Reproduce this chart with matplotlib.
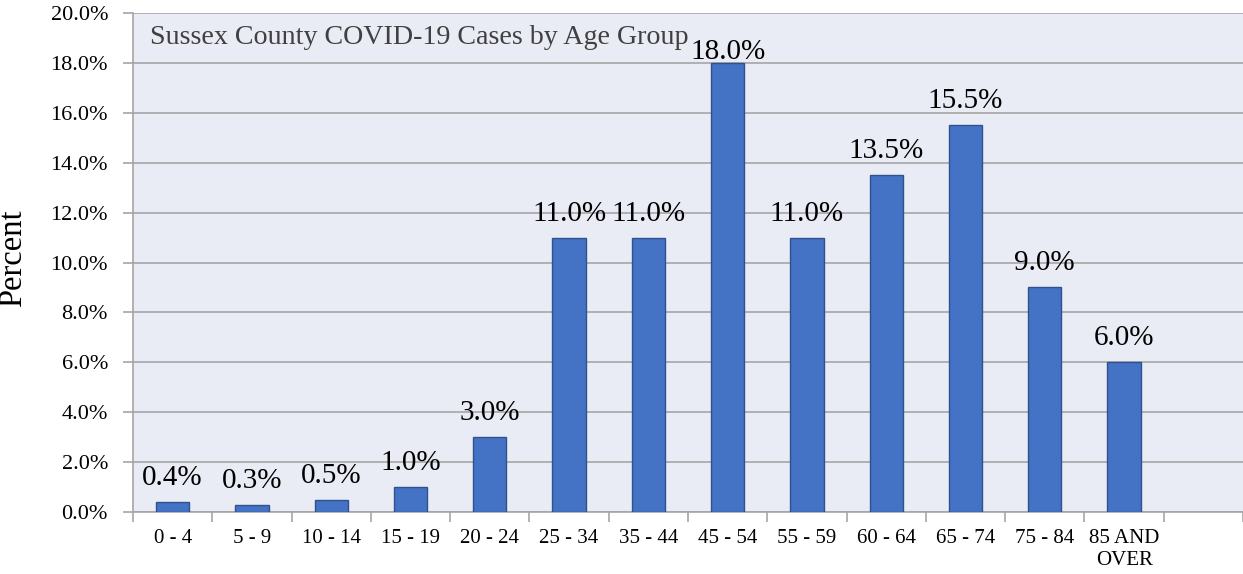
import matplotlib
matplotlib.use("Agg")
import matplotlib.pyplot as plt
import numpy as np

categories = ["0 - 4", "5 - 9", "10 - 14", "15 - 19", "20 - 24", "25 - 34", "35 - 44",
              "45 - 54", "55 - 59", "60 - 64", "65 - 74", "75 - 84", "85 AND\nOVER", ""]
values = [0.4, 0.3, 0.5, 1.0, 3.0, 11.0, 11.0, 18.0, 11.0, 13.5, 15.5, 9.0, 6.0, None]
yticks = [0, 2, 4, 6, 8, 10, 12, 14, 16, 18, 20]
title = "Sussex County COVID-19 Cases by Age Group"
ylabel = "Percent"

plt.rcParams['font.family'] = ['Liberation Serif', 'DejaVu Serif']

fig = plt.figure(figsize=(12.43, 5.74), dpi=100)
ax = fig.add_axes([133/1243, 62/574, 1110/1243, (512-13)/574])
ax.set_facecolor('#E9EBF5')

n = len(categories)
x = np.arange(n)
for xi, v in zip(x, values):
    if v is None:
        continue
    ax.bar(xi, v, width=0.42, color='#4472C4', edgecolor='#2F528F', linewidth=1.0, zorder=3)
    ax.text(xi, min(v + 0.68, 18.16), f"{v:.1f}%", ha='center', va='baseline',
            fontsize=21, color='#000000', zorder=4)

ax.set_xlim(-0.5, n - 0.5)
ax.set_ylim(0, 20)
ax.set_yticks(yticks)
ax.set_yticklabels([f"{t:.1f}%" for t in yticks], fontsize=16)
ax.yaxis.grid(True, color='#A6A6A6', linewidth=1.2, zorder=0)
ax.set_axisbelow(True)

ax.set_xticks(x)
ax.set_xticklabels(categories, fontsize=15, linespacing=1.2)
ax.set_xticks(np.arange(-0.5, n, 1.0), minor=True)
ax.tick_params(axis='x', which='major', length=0, pad=12.5)
ax.tick_params(axis='x', which='minor', length=7, color='#A6A6A6', width=1.2)
ax.tick_params(axis='y', length=7, color='#A6A6A6', width=1.2, pad=11)

for s in ['top', 'right']:
    ax.spines[s].set_visible(False)
for s in ['left', 'bottom']:
    ax.spines[s].set_color('#A6A6A6')
    ax.spines[s].set_linewidth(1.2)

ax.text(0.015, 0.95, title, transform=ax.transAxes, ha='left', va='center',
        fontsize=20.2, color='#404040')

fig.text(13/1243, 1 - 258/574, ylabel, rotation=90, ha='center', va='center', fontsize=23.5)

fig.savefig("out.png", dpi=100)
